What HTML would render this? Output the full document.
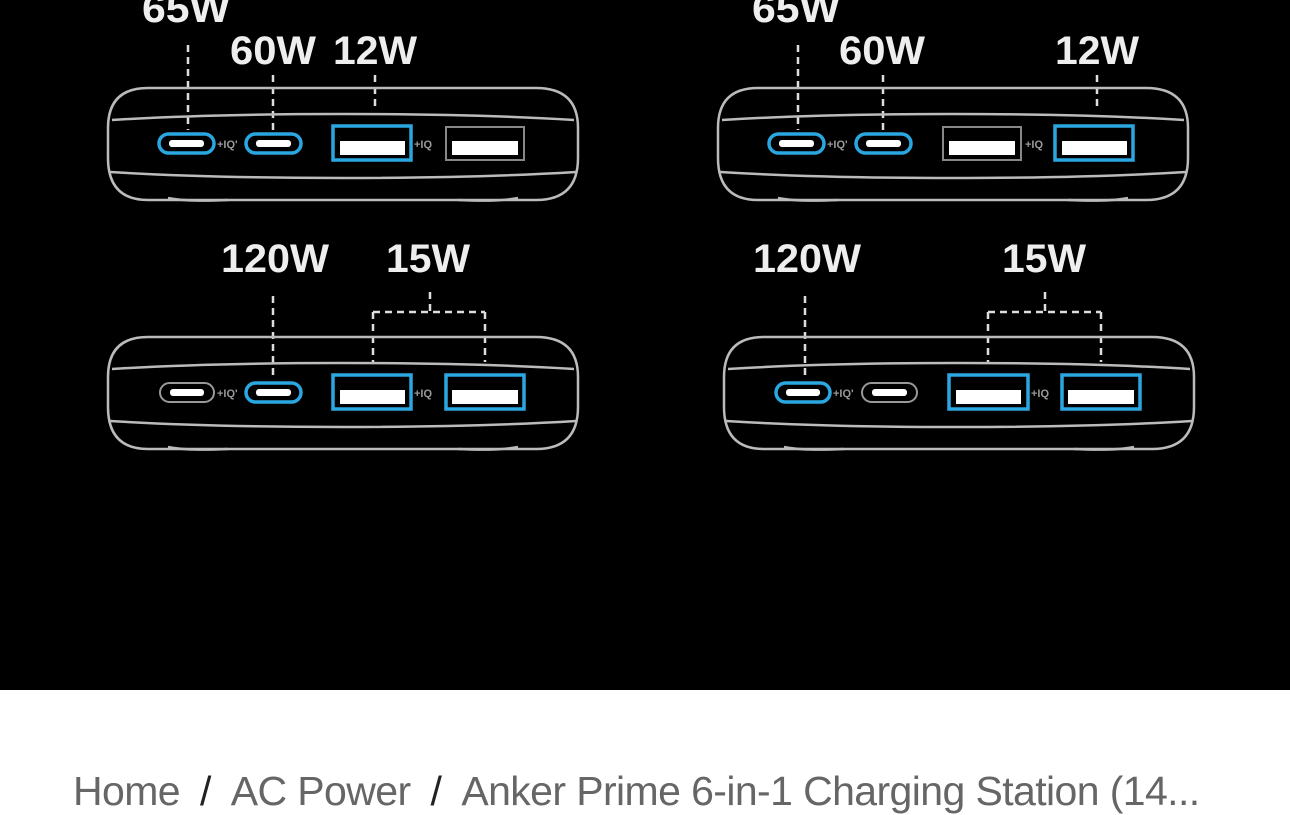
<!DOCTYPE html>
<html><head><style>
body{margin:0;width:1290px;height:813px;background:#fff;overflow:hidden;font-family:"Liberation Sans",sans-serif}
.bc{position:absolute;left:73px;top:768px;font-size:41px;color:#666;white-space:nowrap;letter-spacing:-0.6px}
.bc b{font-weight:normal;color:#222;margin:0 20px}
</style></head><body>
<svg width="1290" height="690" style="position:absolute;left:0;top:0;display:block">
<rect width="1290" height="690" fill="#000"/>
<defs>
<g id="body" fill="none" stroke="#bbb" stroke-width="2.5">
<path d="M40 0 H428 Q470 0 470 40 V70 Q470 112 428 112 H40 Q0 112 0 70 V40 Q0 0 40 0Z"/>
<path d="M4 32 Q100 26 234 26 Q370 26 466 32"/>
<path d="M2 84 Q100 90 234 90 Q370 90 468 84"/>
<path d="M60 110 Q80 114 120 112 M350 112 Q390 114 410 110"/>
</g>
</defs>
<g font-family="Liberation Sans" font-weight="bold" font-size="40" fill="#eee" text-anchor="middle">
<text x="186" y="22" textLength="88" lengthAdjust="spacingAndGlyphs">65W</text><text x="273" y="64" textLength="86" lengthAdjust="spacingAndGlyphs">60W</text><text x="375" y="64" textLength="84" lengthAdjust="spacingAndGlyphs">12W</text>
<text x="796" y="22" textLength="88" lengthAdjust="spacingAndGlyphs">65W</text><text x="882" y="64" textLength="86" lengthAdjust="spacingAndGlyphs">60W</text><text x="1097" y="64" textLength="84" lengthAdjust="spacingAndGlyphs">12W</text>
<text x="275" y="272" textLength="108" lengthAdjust="spacingAndGlyphs">120W</text><text x="428" y="272" textLength="84" lengthAdjust="spacingAndGlyphs">15W</text>
<text x="807" y="272" textLength="108" lengthAdjust="spacingAndGlyphs">120W</text><text x="1044" y="272" textLength="84" lengthAdjust="spacingAndGlyphs">15W</text>
</g>
<g stroke="#ddd" stroke-width="2.5" stroke-dasharray="7,5" fill="none">
<path d="M188 45V130M273 75V130M375 75V110"/>
<path d="M798 45V130M883 75V130M1097 75V110"/>
<path d="M273 296V380M430 292V312M373 312H485M373 312V362M485 312V362"/>
<path d="M805 296V380M1045 292V312M988 312H1101M988 312V362M1101 312V362"/>
</g>
<use href="#body" x="108" y="88"/><use href="#body" x="718" y="88"/>
<use href="#body" x="108" y="337"/><use href="#body" x="724" y="337"/>
<g stroke-width="3.5" fill="none">
<rect x="159" y="134" width="55" height="19" rx="9.5" stroke="#2aa7e0"/><rect x="169" y="140" width="35" height="7" rx="3" fill="#fff" stroke="none"/>
<rect x="246" y="134" width="55" height="19" rx="9.5" stroke="#2aa7e0"/><rect x="256" y="140" width="35" height="7" rx="3" fill="#fff" stroke="none"/>
<rect x="333" y="126" width="78" height="34" stroke="#2aa7e0"/><rect x="340" y="141" width="65" height="14" fill="#fff" stroke="none"/>
<rect x="446" y="127" width="78" height="33" stroke="#888" stroke-width="2"/><rect x="452" y="141" width="66" height="14" fill="#fff" stroke="none"/>
<rect x="769" y="134" width="55" height="19" rx="9.5" stroke="#2aa7e0"/><rect x="779" y="140" width="35" height="7" rx="3" fill="#fff" stroke="none"/>
<rect x="856" y="134" width="55" height="19" rx="9.5" stroke="#2aa7e0"/><rect x="866" y="140" width="35" height="7" rx="3" fill="#fff" stroke="none"/>
<rect x="943" y="127" width="78" height="33" stroke="#888" stroke-width="2"/><rect x="949" y="141" width="66" height="14" fill="#fff" stroke="none"/>
<rect x="1055" y="126" width="78" height="34" stroke="#2aa7e0"/><rect x="1062" y="141" width="65" height="14" fill="#fff" stroke="none"/>
<rect x="160" y="383" width="54" height="19" rx="9.5" stroke="#999" stroke-width="2"/><rect x="170" y="389" width="34" height="7" rx="3" fill="#fff" stroke="none"/>
<rect x="246" y="383" width="55" height="19" rx="9.5" stroke="#2aa7e0"/><rect x="256" y="389" width="35" height="7" rx="3" fill="#fff" stroke="none"/>
<rect x="333" y="375" width="78" height="34" stroke="#2aa7e0"/><rect x="340" y="390" width="65" height="14" fill="#fff" stroke="none"/>
<rect x="446" y="375" width="78" height="34" stroke="#2aa7e0"/><rect x="452" y="390" width="66" height="14" fill="#fff" stroke="none"/>
<rect x="776" y="383" width="54" height="19" rx="9.5" stroke="#2aa7e0"/><rect x="786" y="389" width="34" height="7" rx="3" fill="#fff" stroke="none"/>
<rect x="862" y="383" width="55" height="19" rx="9.5" stroke="#999" stroke-width="2"/><rect x="872" y="389" width="35" height="7" rx="3" fill="#fff" stroke="none"/>
<rect x="949" y="375" width="79" height="34" stroke="#2aa7e0"/><rect x="956" y="390" width="65" height="14" fill="#fff" stroke="none"/>
<rect x="1062" y="375" width="78" height="34" stroke="#2aa7e0"/><rect x="1068" y="390" width="66" height="14" fill="#fff" stroke="none"/>
</g>
<g font-family="Liberation Sans" font-weight="bold" font-size="11" fill="#999">
<text x="217" y="148">+IQ'</text><text x="414" y="148">+IQ</text>
<text x="827" y="148">+IQ'</text><text x="1025" y="148">+IQ</text>
<text x="217" y="397">+IQ'</text><text x="414" y="397">+IQ</text>
<text x="833" y="397">+IQ'</text><text x="1031" y="397">+IQ</text>
</g>
</svg>
<div class="bc">Home<b>/</b>AC Power<b>/</b>Anker Prime 6-in-1 Charging Station (14...</div>
</body></html>
